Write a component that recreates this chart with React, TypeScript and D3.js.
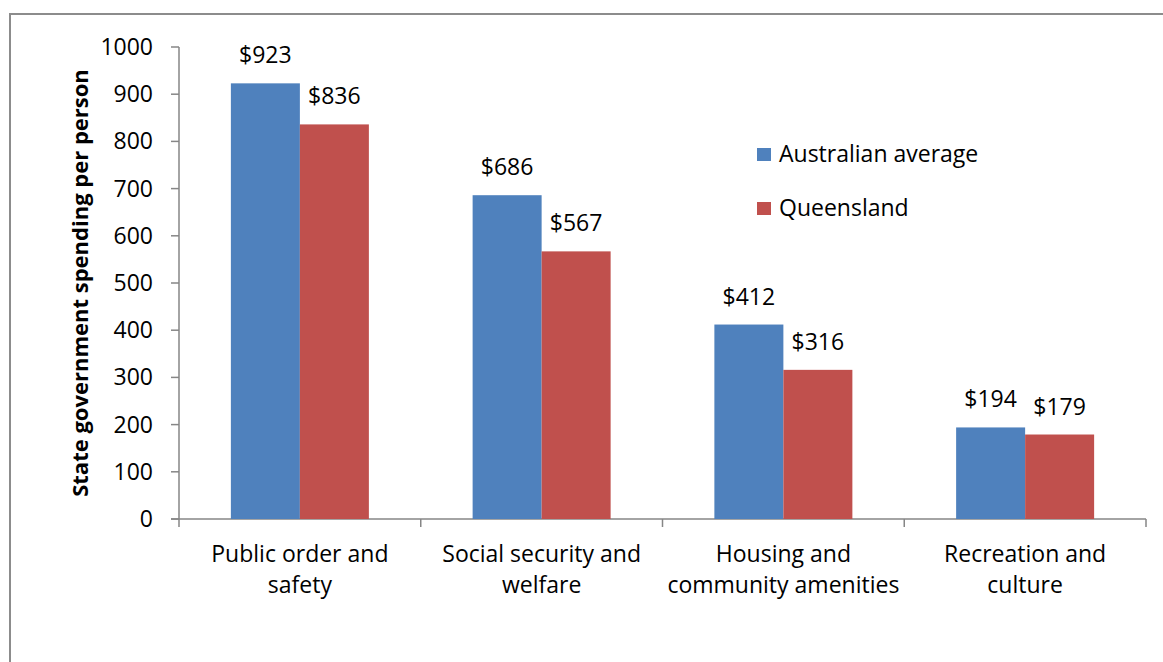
import React, { useEffect, useRef } from 'react';
import * as d3 from 'd3';

const categories = [
  ['Public order and', 'safety'],
  ['Social security and', 'welfare'],
  ['Housing and', 'community amenities'],
  ['Recreation and', 'culture'],
];
const seriesNames = ['Australian average', 'Queensland'];
const australianAverage = [923, 686, 412, 194];
const queensland = [836, 567, 316, 179];
const yTicks = [0, 100, 200, 300, 400, 500, 600, 700, 800, 900, 1000];
const colors = ['#4F81BD', '#C0504D'];

const W = 1163;
const H = 662;
const FONT = '"Open Sans", sans-serif';
const FS = 23;

const App: React.FC = () => {
  const svgRef = useRef<SVGSVGElement>(null);

  useEffect(() => {
    if (!svgRef.current) return;
    const svg = d3.select(svgRef.current);
    svg.selectAll('*').remove();

    const left = 179, right = 1146, top = 47, bottom = 519;
    const axisColor = '#868686';

    // outer chart border
    svg.append('rect')
      .attr('x', 10).attr('y', 14)
      .attr('width', W).attr('height', H)
      .attr('fill', 'none').attr('stroke', '#8c8c8c').attr('stroke-width', 2);

    const y = d3.scaleLinear().domain([0, 1000]).range([bottom, top]);
    const keys = categories.map((c) => c.join(' '));
    const x0 = d3.scaleBand<string>().domain(keys).range([left, right]);
    const groupW = 138;
    const x1 = d3.scaleBand<number>().domain([0, 1])
      .range([(x0.bandwidth() - groupW) / 2, (x0.bandwidth() + groupW) / 2]);

    // y axis
    const g = svg.append('g');
    g.append('line').attr('x1', left).attr('x2', left).attr('y1', top).attr('y2', bottom)
      .attr('stroke', axisColor).attr('stroke-width', 1.5);
    yTicks.forEach((t) => {
      g.append('line').attr('x1', left - 8).attr('x2', left).attr('y1', y(t)).attr('y2', y(t))
        .attr('stroke', axisColor).attr('stroke-width', 1.5);
      g.append('text').attr('x', 153).attr('y', y(t)).attr('dy', '0.35em')
        .attr('text-anchor', 'end').attr('font-family', FONT).attr('font-size', FS)
        .attr('fill', '#000').text(t);
    });

    // y axis title
    g.append('text')
      .attr('transform', `translate(88, ${(top + bottom) / 2}) rotate(-90)`)
      .attr('text-anchor', 'middle').attr('font-family', FONT).attr('font-size', 22)
      .attr('font-weight', 'bold').text('State government spending per person');

    // bars
    const series = [australianAverage, queensland];
    series.forEach((vals, si) => {
      vals.forEach((v, ci) => {
        const bx = (x0(keys[ci]) as number) + (x1(si) as number);
        svg.append('rect')
          .attr('x', bx).attr('y', y(v))
          .attr('width', x1.bandwidth()).attr('height', y(0) - y(v))
          .attr('fill', colors[si]);
        svg.append('text')
          .attr('x', bx + x1.bandwidth() / 2).attr('y', y(v) - 20)
          .attr('text-anchor', 'middle').attr('font-family', FONT).attr('font-size', FS)
          .text(`$${v}`);
      });
    });

    // x axis
    g.append('line').attr('x1', left - 8).attr('x2', right).attr('y1', bottom).attr('y2', bottom)
      .attr('stroke', axisColor).attr('stroke-width', 1.5);
    [...keys.map((k) => x0(k) as number), right].forEach((tx) => {
      g.append('line').attr('x1', tx).attr('x2', tx).attr('y1', bottom).attr('y2', bottom + 8)
        .attr('stroke', axisColor).attr('stroke-width', 1.5);
    });
    categories.forEach((lines, ci) => {
      const cx = (x0(keys[ci]) as number) + x0.bandwidth() / 2;
      lines.forEach((ln, li) => {
        svg.append('text').attr('x', cx).attr('y', 562 + li * 31)
          .attr('text-anchor', 'middle').attr('font-family', FONT).attr('font-size', FS)
          .text(ln);
      });
    });

    // legend
    seriesNames.forEach((name, i) => {
      const by = 162 + i * 54;
      svg.append('rect').attr('x', 757).attr('y', by - 14).attr('width', 14).attr('height', 13)
        .attr('fill', colors[i]);
      svg.append('text').attr('x', 779).attr('y', by)
        .attr('font-family', FONT).attr('font-size', FS).text(name);
    });
  }, []);

  return (
    <svg ref={svgRef} width={W} height={H}
      style={{ position: 'absolute', left: 0, top: 0, background: '#fff' }} />
  );
};

export default App;
